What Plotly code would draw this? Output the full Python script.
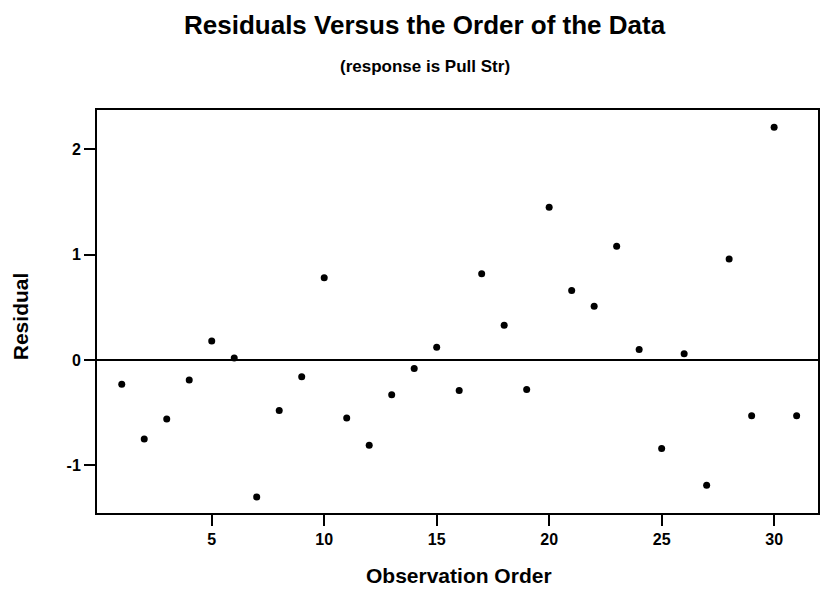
import plotly.graph_objects as go

# Data
observation_order = list(range(1, 32))
residuals = [
    -0.23, -0.75, -0.56, -0.19, 0.18, 0.02, -1.30, -0.48, -0.16, 0.78,
    -0.55, -0.81, -0.33, -0.08, 0.12, -0.29, 0.82, 0.33, -0.28, 1.45,
    0.66, 0.51, 1.08, 0.10, -0.84, 0.06, -1.19, 0.96, -0.53, 2.21,
    -0.53,
]
x_ticks = [5, 10, 15, 20, 25, 30]
x_tick_labels = ["5", "10", "15", "20", "25", "30"]
y_ticks = [-1, 0, 1, 2]
y_tick_labels = ["-1", "0", "1", "2"]

title_text = "Residuals Versus the Order of the Data"
subtitle_text = "(response is Pull Str)"
x_title = "Observation Order"
y_title = "Residual"

FONT = "Liberation Sans, Arial, sans-serif"

fig = go.Figure()
fig.add_trace(go.Scatter(
    x=observation_order, y=residuals, mode="markers",
    marker=dict(color="black", size=7, line=dict(width=0)),
    showlegend=False, hoverinfo="x+y",
))

axis_common = dict(
    showline=True, linecolor="black", linewidth=2, mirror=True,
    ticks="outside", tickcolor="black", tickwidth=1.5, ticklen=11,
    showgrid=False,
    tickfont=dict(family=FONT, size=16, color="black", weight="bold"),
)

fig.update_xaxes(range=[-0.1, 31.95], tickvals=x_ticks, ticktext=x_tick_labels,
                 zeroline=False, **axis_common)
fig.update_yaxes(range=[-1.453, 2.374], tickvals=y_ticks, ticktext=y_tick_labels,
                 zeroline=True, zerolinecolor="black", zerolinewidth=1.5,
                 **axis_common)

annotations = [
    dict(text=title_text, x=0.455, y=1.211, xref="paper", yref="paper",
         showarrow=False, xanchor="center", yanchor="middle",
         font=dict(family=FONT, size=26, color="black", weight="bold")),
    dict(text=subtitle_text, x=0.455, y=1.109, xref="paper", yref="paper",
         showarrow=False, xanchor="center", yanchor="middle",
         font=dict(family=FONT, size=17, color="black", weight="bold")),
    dict(text=x_title, x=0.502, y=-0.154, xref="paper", yref="paper",
         showarrow=False, xanchor="center", yanchor="middle",
         font=dict(family=FONT, size=21, color="black", weight="bold")),
    dict(text=y_title, x=-0.105, y=0.489, xref="paper", yref="paper",
         showarrow=False, xanchor="center", yanchor="middle", textangle=-90,
         font=dict(family=FONT, size=21, color="black", weight="bold")),
]

fig.update_layout(
    width=822, height=589,
    margin=dict(l=97, r=2, t=110, b=76),
    paper_bgcolor="white", plot_bgcolor="white",
    annotations=annotations,
    font=dict(family=FONT, color="black"),
)

fig.write_html("out.html")
